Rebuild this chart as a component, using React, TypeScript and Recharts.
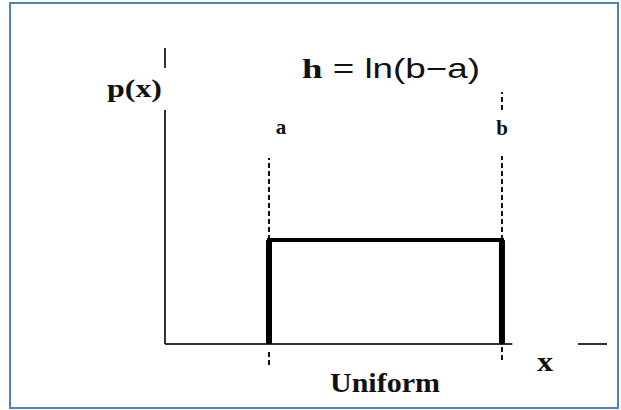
import React from "react";
import { ComposedChart, Line, XAxis, YAxis, ReferenceLine, Customized } from "recharts";

// uniform density: p(x) = 1/(b-a) between a and b
const xValues = [1, 1, 3.24, 3.24];
const pValues = [0, 0.444, 0.444, 0];
const edgeLabels = ["a", "b"];

// guide lines (value space)
const aGuides = [
  [0.444, 0.795],
  [-0.034, -0.09],
];
const bGuides = [
  [1.0, 1.077],
  [0.444, 0.803],
  [-0.013, -0.08],
];
const yAxisParts = [
  [0, 1.0],
  [1.18, 1.265],
];
const xAxisParts = [
  [0, 3.34],
  [3.97, 4.25],
];

const data = xValues.map((x, i) => ({ x, p: pValues[i] }));

const serif = { fontFamily: "Liberation Serif, Times New Roman, serif", fontWeight: 700 };
const sans = { fontFamily: "Liberation Sans, Arial, sans-serif", fontWeight: 400 };

const Texts = () => (
  <g fill="#111">
    <text x={107} y={97} style={{ ...serif, fontSize: 26 }} textLength={55} lengthAdjust="spacingAndGlyphs">
      p(x)
    </text>
    <text x={302} y={78} style={{ fontSize: 28 }} textLength={178} lengthAdjust="spacingAndGlyphs">
      <tspan style={serif}>h</tspan>
      <tspan style={sans}> = ln(b−a)</tspan>
    </text>
    <text x={281} y={134} style={{ ...serif, fontSize: 21 }} textAnchor="middle">
      {edgeLabels[0]}
    </text>
    <text x={502} y={135} style={{ ...serif, fontSize: 21 }} textAnchor="middle">
      {edgeLabels[1]}
    </text>
    <text x={537} y={371} style={{ ...serif, fontSize: 27 }} textLength={16} lengthAdjust="spacingAndGlyphs">
      x
    </text>
    <text x={330} y={392} style={{ ...serif, fontSize: 28 }} textLength={110} lengthAdjust="spacingAndGlyphs">
      Uniform
    </text>
  </g>
);

export default function App() {
  const axisColor = "#333";
  return (
    <div style={{ position: "absolute", left: 0, top: 0, width: 621, height: 410, background: "#fff" }}>
      <ComposedChart width={621} height={410} data={data} margin={{ top: 48, right: 14, left: 165, bottom: 44 }}>
        <XAxis dataKey="x" type="number" domain={[0, 4.25]} hide />
        <YAxis type="number" domain={[-0.094, 1.265]} hide />
        {yAxisParts.map(([y1, y2], i) => (
          <ReferenceLine key={`ya${i}`} segment={[{ x: 0, y: y1 }, { x: 0, y: y2 }]} stroke={axisColor} strokeWidth={2} />
        ))}
        {xAxisParts.map(([x1, x2], i) => (
          <ReferenceLine key={`xa${i}`} segment={[{ x: x1, y: 0 }, { x: x2, y: 0 }]} stroke={axisColor} strokeWidth={2} />
        ))}
        {aGuides.map(([y1, y2], i) => (
          <ReferenceLine key={`ag${i}`} segment={[{ x: xValues[0], y: y1 }, { x: xValues[0], y: y2 }]} stroke="#111" strokeWidth={2} strokeDasharray="5 3" />
        ))}
        {bGuides.map(([y1, y2], i) => (
          <ReferenceLine key={`bg${i}`} segment={[{ x: xValues[2], y: y1 }, { x: xValues[2], y: y2 }]} stroke="#111" strokeWidth={2} strokeDasharray="5 3" />
        ))}
        <Line type="linear" dataKey="p" stroke="#000" strokeWidth={4} dot={false} isAnimationActive={false} strokeLinejoin="miter" />
        <ReferenceLine segment={[{ x: xValues[0], y: pValues[0] }, { x: xValues[1], y: pValues[1] }]} stroke="#000" strokeWidth={6} />
        <ReferenceLine segment={[{ x: xValues[2], y: pValues[2] }, { x: xValues[3], y: pValues[3] }]} stroke="#000" strokeWidth={6} />
        <Customized component={Texts} />
      </ComposedChart>
      <div
        style={{
          position: "absolute",
          left: 9,
          top: 2,
          width: 610,
          height: 407,
          border: "2px solid #4f81bd",
          boxSizing: "border-box",
          pointerEvents: "none",
        }}
      />
    </div>
  );
}
